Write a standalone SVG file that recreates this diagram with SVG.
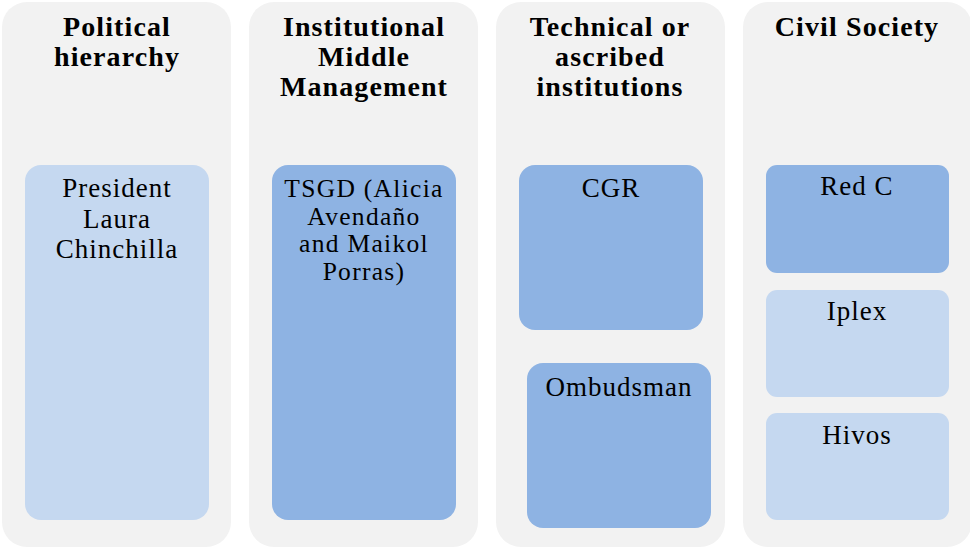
<svg xmlns="http://www.w3.org/2000/svg" width="970" height="548" viewBox="0 0 970 548">
<style>
.col{fill:#f2f2f2}
.lt{fill:#c5d8f0}
.md{fill:#8eb3e3}
.h{font-family:"Liberation Serif",serif;font-weight:bold;font-size:28px;letter-spacing:1.1px;text-anchor:middle;fill:#000}
.t{font-family:"Liberation Serif",serif;font-size:27px;letter-spacing:1px;text-anchor:middle;fill:#000}
.s{font-size:25.5px;letter-spacing:1.3px}
</style>
<rect width="970" height="548" fill="#ffffff"/>
<g id="col-political">
<rect class="col" x="2" y="2" width="229" height="545" rx="25"/>
<text class="h" x="117" y="36">Political</text>
<text class="h" x="117" y="66">hierarchy</text>
</g>
<g id="col-middle">
<rect class="col" x="249" y="2" width="229" height="545" rx="25"/>
<text class="h" x="364" y="36">Institutional</text>
<text class="h" x="364" y="66">Middle</text>
<text class="h" x="364" y="96">Management</text>
</g>
<g id="col-technical">
<rect class="col" x="496" y="2" width="229" height="545" rx="25"/>
<text class="h" x="610" y="36">Technical or</text>
<text class="h" x="610" y="66">ascribed</text>
<text class="h" x="610" y="96">institutions</text>
</g>
<g id="col-civil">
<rect class="col" x="743" y="2" width="229" height="545" rx="25"/>
<text class="h" x="857" y="36">Civil Society</text>
</g>
<g id="president">
<rect class="lt" x="25" y="165" width="184" height="355" rx="16"/>
<text class="t" x="117" y="197">President</text>
<text class="t" x="117" y="228">Laura</text>
<text class="t" x="117" y="258">Chinchilla</text>
</g>
<g id="tsgd">
<rect class="md" x="272" y="165" width="184" height="355" rx="16"/>
<text class="t s" x="364" y="197">TSGD (Alicia</text>
<text class="t s" x="364" y="225">Avendaño</text>
<text class="t s" x="364" y="252">and Maikol</text>
<text class="t s" x="364" y="280">Porras)</text>
</g>
<g id="cgr">
<rect class="md" x="519" y="165" width="184" height="165" rx="16"/>
<text class="t" x="611" y="197">CGR</text>
</g>
<g id="ombudsman">
<rect class="md" x="527" y="363" width="184" height="165" rx="16"/>
<text class="t" x="619" y="396">Ombudsman</text>
</g>
<g id="redc">
<rect class="md" x="766" y="165" width="183" height="108" rx="11"/>
<text class="t" x="857" y="195">Red C</text>
</g>
<g id="iplex">
<rect class="lt" x="766" y="290" width="183" height="107" rx="11"/>
<text class="t" x="857" y="320">Iplex</text>
</g>
<g id="hivos">
<rect class="lt" x="766" y="413" width="183" height="107" rx="11"/>
<text class="t" x="857" y="444">Hivos</text>
</g>
<g id="connectors"></g>
</svg>
